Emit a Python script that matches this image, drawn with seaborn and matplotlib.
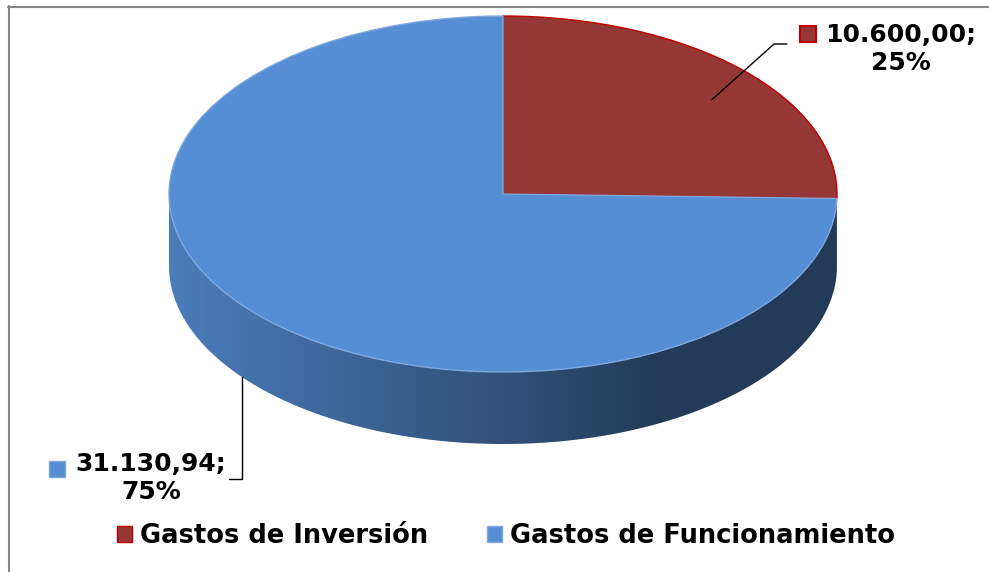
"""3D-style pie chart: Gastos de Inversión vs Gastos de Funcionamiento."""

import numpy as np
import matplotlib
matplotlib.use('Agg')
import matplotlib.pyplot as plt
from matplotlib.lines import Line2D
from matplotlib.patches import PathPatch
from matplotlib.path import Path
import matplotlib.colors as mcolors
import seaborn as sns

categories = ['Gastos de Inversión', 'Gastos de Funcionamiento']
values = [10600.00, 31130.94]
colors = ['#953735', '#558ed5']
edge_colors = ['#c00000', '#7fa8df']

W, H = 989, 572
# top face of the pie in pixels
CX, CY = 503, 194
RX, RY = 334, 178
DEPTH = 72 / RY


def es_num(v):
    # spanish number format: 10.600,00
    s = f'{v:,.2f}'
    return s.replace(',', 'X').replace('.', ',').replace('X', '.')


def to_data(x, y):
    return (x - CX) / RX, (CY - y) / RY


def fig_xy(x, y):
    return x / W, 1 - y / H


sns.set_theme(style='white')
plt.rcParams['font.family'] = ['DejaVu Sans']

fig = plt.figure(figsize=(W / 100, H / 100), dpi=100)
ax = fig.add_axes([0, 0, 1, 1])

wedges, _ = ax.pie(values, colors=colors, startangle=90, counterclock=False,
                   radius=1, wedgeprops=dict(linewidth=1.0))
for w, ec in zip(wedges, edge_colors):
    w.set_edgecolor(ec)
    w.set_zorder(3)

# side wall of the pie (front half only), shaded left to right
shade_x = [-1.0, 0.0, 0.45, 1.0]
shade_f = [0.88, 0.57, 0.42, 0.42]
xs = np.linspace(-1, 1, 400)
fac = np.interp(xs, shade_x, shade_f)

for w, col in zip(wedges, colors):
    t1, t2 = w.theta1, w.theta2
    for k in (-360, 0, 360):
        a, b = max(t1, -180 + k), min(t2, 0 + k)
        if b <= a:
            continue
        t = np.radians(np.linspace(a, b, 200))
        top = np.column_stack([np.cos(t), np.sin(t)])
        bot = np.column_stack([np.cos(t[::-1]), np.sin(t[::-1]) - DEPTH])
        verts = np.vstack([top, bot, top[:1]])
        codes = [Path.MOVETO] + [Path.LINETO] * (len(verts) - 2) + [Path.CLOSEPOLY]
        patch = PathPatch(Path(verts, codes), facecolor='none', edgecolor='none')
        ax.add_patch(patch)
        base = np.array(mcolors.to_rgb(col))
        img = (base[None, :] * fac[:, None])[None, :, :]
        im = ax.imshow(img, extent=(-1, 1, -1 - DEPTH, 0), aspect='auto',
                       interpolation='bilinear', zorder=2)
        im.set_clip_path(patch)

total = sum(values)
font = dict(fontsize=18, fontweight='bold', color='black')

# label of first slice (upper right)
w0 = wedges[0]
mid = np.radians((w0.theta1 + w0.theta2) / 2 - 4)
ax0 = (0.82 * np.cos(mid), 0.82 * np.sin(mid))
e1, e2 = to_data(774, 44), to_data(787, 44)
ax.plot([ax0[0], e1[0], e2[0]], [ax0[1], e1[1], e2[1]], color='black', lw=1.0, zorder=5)
fig.text(*fig_xy(901, 70), f'{es_num(values[0])};\n{values[0] / total * 100:.0f}%',
         ha='center', va='baseline', multialignment='center', **font)
fig.add_artist(Line2D([807.5 / W], [1 - 34 / H], marker='s', markersize=11,
                      markerfacecolor=colors[0], markeredgecolor=edge_colors[0],
                      markeredgewidth=1.5, transform=fig.transFigure))

# label of second slice (lower left), leader from the bottom rim
lx = to_data(242, 0)[0]
ly = -np.sqrt(1 - lx ** 2) - DEPTH
b1, b2 = to_data(242, 479), to_data(229, 479)
ax.plot([lx, b1[0], b2[0]], [ly, b1[1], b2[1]], color='black', lw=1.0, zorder=5)
fig.text(*fig_xy(151, 499), f'{es_num(values[1])};\n{values[1] / total * 100:.0f}%',
         ha='center', va='baseline', multialignment='center', **font)
fig.add_artist(Line2D([57 / W], [1 - 469 / H], marker='s', markersize=11,
                      markerfacecolor=colors[1], markeredgecolor=edge_colors[1],
                      markeredgewidth=1.0, transform=fig.transFigure))

ax.legend(wedges, categories, ncol=2, loc='center',
          bbox_to_anchor=fig_xy(506, 536), bbox_transform=fig.transFigure,
          frameon=False, prop=dict(weight='bold', size=18.5), labelcolor='black',
          handlelength=0.58, handleheight=0.58, handletextpad=0.3,
          columnspacing=2.3, borderaxespad=0, borderpad=0)

x0, y1 = to_data(0, 0)
x1, y0 = to_data(W, H)
ax.set_xlim(x0, x1)
ax.set_ylim(y0, y1)
ax.set_aspect('auto')
ax.axis('off')

# chart frame (only top and left edges visible)
fig.add_artist(Line2D([8 / W, 1], [1 - 6.7 / H] * 2, color='#868686', lw=1.5,
                      transform=fig.transFigure))
fig.add_artist(Line2D([9 / W] * 2, [0, 1 - 6 / H], color='#868686', lw=1.5,
                      transform=fig.transFigure))

fig.savefig('out.png', dpi=100)
plt.close(fig)
